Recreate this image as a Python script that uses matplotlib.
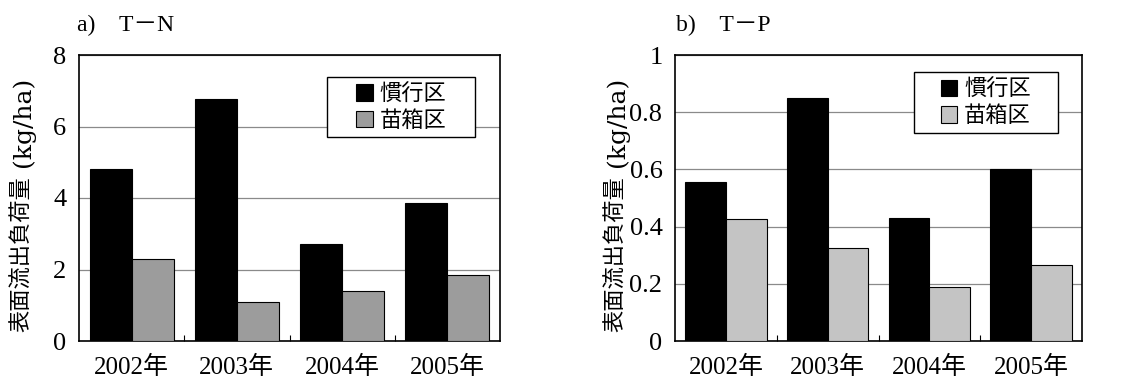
import numpy as np
import matplotlib
matplotlib.use("Agg")
from matplotlib import pyplot as plt
from matplotlib.patches import Rectangle

years = ["2002年", "2003年", "2004年", "2005年"]
series = ["慣行区", "苗箱区"]
tn_conv = [4.81, 6.76, 2.72, 3.87]
tn_box = [2.28, 1.09, 1.39, 1.85]
tp_conv = [0.556, 0.851, 0.431, 0.601]
tp_box = [0.428, 0.324, 0.189, 0.267]

serif = ["Liberation Serif", "Noto Sans CJK JP"]
cjk = ["Noto Sans CJK JP", "DejaVu Sans"]

fig = plt.figure(figsize=(11.37, 3.82), dpi=100)
W, H = 1137, 382

def panel(rect, conv, box, gray, ymax, yticks, ylabels, title, title_x, ylab_x, leg_rect):
    ax = fig.add_axes(rect)
    x = np.arange(len(years))
    ax.bar(x - 0.2, conv, 0.4, color="black", edgecolor="black", linewidth=0.8, label=series[0], zorder=3)
    ax.bar(x + 0.2, box, 0.4, color=gray, edgecolor="black", linewidth=0.8, label=series[1], zorder=3)
    ax.set_xlim(-0.5, len(years) - 0.5)
    ax.set_ylim(0, ymax)
    ax.set_yticks(yticks)
    ax.set_yticklabels(ylabels, family=serif, fontsize=19)
    ax.set_xticks(x)
    ax.set_xticklabels(years, family=serif, fontsize=18)
    ax.set_xticks(x[:-1] + 0.5, minor=True)
    ax.tick_params(axis="x", which="major", length=0, pad=11)
    ax.tick_params(axis="x", which="minor", length=4, direction="in", width=0.8)
    ax.tick_params(axis="y", length=0, pad=9)
    ax.yaxis.grid(True, color="#8a8a8a", linewidth=0.9, zorder=0)
    for s in ax.spines.values():
        s.set_linewidth(1.2)
    # legend box
    x0, y0, w, h = leg_rect
    ax.add_patch(Rectangle((x0, y0), w, h, transform=ax.transAxes, facecolor="white",
                           edgecolor="black", linewidth=1.0, zorder=4))
    leg = ax.legend(loc="center", bbox_to_anchor=(x0 + w / 2, y0 + h / 2),
                    prop={"family": cjk, "size": 16}, frameon=False,
                    handlelength=0.75, handleheight=0.75, handletextpad=0.3,
                    borderpad=0, labelspacing=0.15)
    leg.set_zorder(5)
    fig.text(title_x / W, 1 - 25 / H, title, family=serif, fontsize=17, va="center", ha="left")
    # y label: kanji part and unit part
    fig.text(ylab_x / W, 1 - 332 / H, "表面流出負荷量", family=cjk, fontsize=16,
             rotation=90, va="bottom", ha="center")
    fig.text((ylab_x + 1) / W, 1 - 167 / H, "(kg/ha)", family=["DejaVu Serif"], fontsize=18,
             rotation=90, va="bottom", ha="center")
    return ax

panel([79 / W, 1 - 341 / H, 421 / W, 286 / H], tn_conv, tn_box, "#9c9c9c", 8,
      [0, 2, 4, 6, 8], ["0", "2", "4", "6", "8"], "a)\u3000T－N", 77, 22,
      (0.59, 0.713, 0.35, 0.21))
panel([675 / W, 1 - 341 / H, 407 / W, 286 / H], tp_conv, tp_box, "#c4c4c4", 1,
      [0, 0.2, 0.4, 0.6, 0.8, 1], ["0", "0.2", "0.4", "0.6", "0.8", "1"], "b)\u3000T－P", 676, 616,
      (0.587, 0.727, 0.353, 0.213))

fig.savefig("out.png", dpi=100)
